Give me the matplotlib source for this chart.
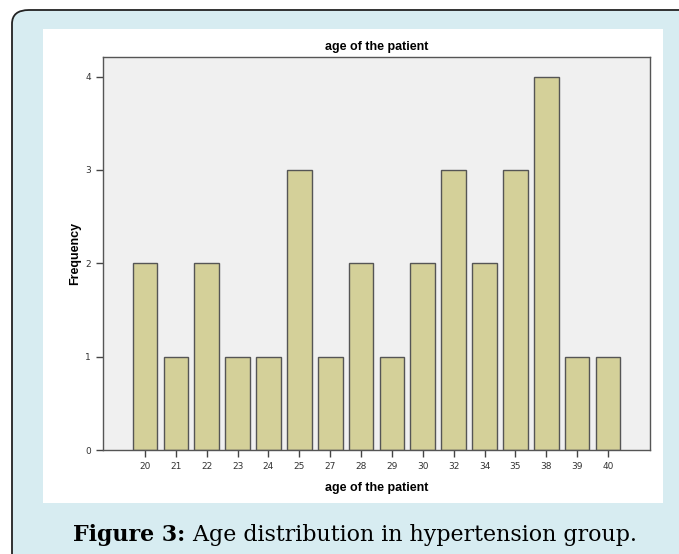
import matplotlib.pyplot as plt
from matplotlib.patches import FancyBboxPatch, Rectangle

ages = ['20', '21', '22', '23', '24', '25', '27', '28', '29', '30', '32', '34', '35', '38', '39', '40']
freq = [2, 1, 2, 1, 1, 3, 1, 2, 1, 2, 3, 2, 3, 4, 1, 1]
y_ticks = [0, 1, 2, 3, 4]

W, H = 679, 554
fig = plt.figure(figsize=(W / 100, H / 100), dpi=100, facecolor='white')

# light blue card with rounded black border (cropped on right/bottom)
card = FancyBboxPatch((12 / W, -0.2), 1.2, (H - 10) / H + 0.2,
                      boxstyle='round,pad=0,rounding_size=0.025',
                      transform=fig.transFigure, facecolor='#d7ecf1',
                      edgecolor='#222222', linewidth=1.3, zorder=0)
fig.patches.append(card)
panel = Rectangle((43 / W, (H - 503) / H), (663 - 43) / W, (503 - 29) / H,
                  transform=fig.transFigure, facecolor='white',
                  edgecolor='none', zorder=1)
fig.patches.append(panel)

ax = fig.add_axes([103 / W, (H - 450) / H, (650 - 103) / W, (450 - 57) / H])
ax.set_zorder(2)
ax.set_facecolor('#f0f0f0')
x = list(range(len(ages)))
ax.bar(x, freq, width=0.8, color='#d4d099', edgecolor='#555555', linewidth=1.0)

ax.set_xlim(-1.36, len(ages) - 1 + 1.36)
ax.set_ylim(0, 4.21)
ax.set_xticks(x)
ax.set_xticklabels(ages)
ax.set_yticks(y_ticks)
ax.tick_params(axis='both', labelsize=6.5, length=5, width=1, color='#444444',
               labelcolor='#333333', direction='out')
for s in ax.spines.values():
    s.set_color('#555555')
    s.set_linewidth(1.0)

ax.set_title('age of the patient', fontsize=9, fontweight='bold', pad=5,
             family='Liberation Sans')
ax.set_xlabel('age of the patient', fontsize=9, fontweight='bold', labelpad=8,
              family='Liberation Sans')
ax.set_ylabel('Frequency', fontsize=9, fontweight='bold', labelpad=3,
              family='Liberation Sans')

# caption: bold part + normal part, centered together under the white panel
cap_y = (H - 535) / H
t1 = fig.text(0, cap_y, 'Figure 3:', fontsize=15.9, fontweight='bold',
              family='DejaVu Serif', va='center', ha='left', zorder=3)
t2 = fig.text(0, cap_y, ' Age distribution in hypertension group.', fontsize=15.9,
              family='DejaVu Serif', va='center', ha='left', zorder=3)
r = fig.canvas.get_renderer()
w1 = t1.get_window_extent(r).width / W
w2 = t2.get_window_extent(r).width / W
start = 355 / W - (w1 + w2) / 2
t1.set_x(start)
t2.set_x(start + w1)

fig.savefig('out.png', dpi=100)
